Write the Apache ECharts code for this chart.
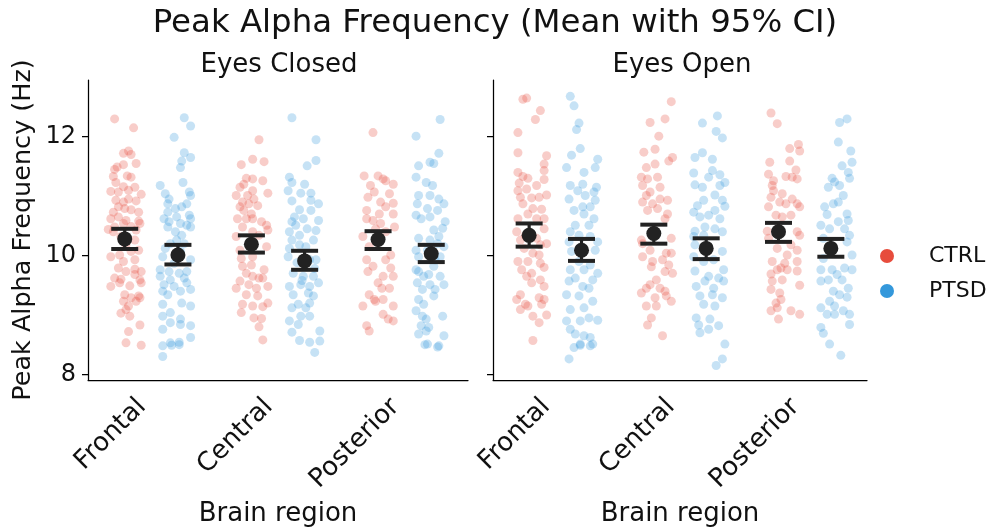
<!DOCTYPE html>
<html><head><meta charset="utf-8">
<script src="https://cdn.jsdelivr.net/npm/echarts@6/dist/echarts.min.js"></script>
<style>html,body{margin:0;padding:0;background:#fff}#c{width:990px;height:532px}</style>
</head><body><div id="c"></div>
<script>
const regions = ['Frontal', 'Central', 'Posterior'];
const groups = ['CTRL', 'PTSD'];
const conditions = ['Eyes Closed', 'Eyes Open'];
const yTicks = [8, 10, 12];

// individual subjects: [horizontal jitter (category units), peak alpha frequency Hz]
const ecFrontalCtrl = [[-0.08,12.30],[0.07,12.15],[-0.01,11.72],[0.03,11.76],[0.05,11.70],[0.09,11.55],[-0.06,11.49],[-0.08,11.45],[-0.01,11.53],[-0.09,11.33],[0.02,11.34],[0.05,11.32],[-0.07,11.23],[-0.01,11.16],[0.08,11.15],[-0.11,11.08],[-0.05,11.07],[0.03,11.10],[0.13,11.03],[-0.07,10.93],[-0.01,10.90],[0.09,10.92],[0.03,10.95],[-0.05,10.82],[0.00,10.79],[-0.09,10.73],[0.11,10.73],[0.05,10.77],[-0.11,10.62],[0.01,10.59],[0.11,10.58],[-0.05,10.65],[-0.01,10.54],[0.12,10.54],[-0.08,10.48],[0.05,10.49],[-0.09,10.40],[0.09,10.43],[-0.13,10.44],[-0.03,10.32],[0.08,10.26],[0.01,10.18],[-0.11,9.98],[-0.04,10.01],[0.05,10.07],[0.11,10.09],[-0.01,9.90],[0.08,9.93],[-0.05,9.79],[0.08,9.77],[0.01,9.73],[0.13,9.73],[-0.08,9.62],[-0.03,9.60],[0.08,9.68],[0.12,9.59],[-0.11,9.48],[-0.04,9.54],[0.04,9.49],[0.13,9.54],[0.00,9.34],[0.11,9.32],[0.05,9.29],[-0.01,9.23],[0.09,9.23],[0.03,9.15],[0.12,9.29],[0.01,9.09],[-0.03,9.03],[0.04,8.98],[0.12,8.83],[0.03,8.72],[0.01,8.53],[0.13,8.49]];
const ecFrontalPtsd = [[0.05,12.32],[0.10,12.18],[-0.03,11.99],[0.05,11.73],[0.10,11.65],[0.03,11.59],[0.02,11.48],[0.04,11.23],[-0.14,11.18],[-0.10,11.04],[0.09,11.07],[0.10,11.01],[-0.07,10.95],[-0.08,10.87],[0.07,10.87],[-0.02,10.79],[0.03,10.82],[-0.08,10.73],[-0.01,10.65],[0.09,10.68],[0.10,10.62],[-0.11,10.62],[-0.07,10.57],[0.02,10.54],[0.07,10.51],[-0.08,10.48],[0.10,10.48],[-0.02,10.40],[0.03,10.34],[-0.01,10.26],[-0.06,10.20],[0.05,10.20],[-0.10,10.12],[0.02,10.07],[-0.12,9.98],[-0.03,9.87],[0.10,9.93],[-0.14,9.76],[-0.07,9.73],[0.01,9.70],[0.07,9.73],[0.05,9.62],[-0.06,9.59],[-0.14,9.65],[-0.11,9.51],[-0.03,9.48],[0.07,9.54],[-0.12,9.40],[-0.08,9.34],[0.02,9.40],[0.10,9.43],[-0.12,9.18],[0.03,9.20],[0.10,9.15],[-0.06,9.04],[-0.12,8.98],[0.02,8.93],[-0.06,8.87],[0.10,8.82],[0.02,8.84],[-0.12,8.76],[0.10,8.62],[-0.12,8.48],[-0.06,8.53],[0.01,8.54],[-0.12,8.30],[-0.05,8.49],[0.01,8.50]];
const ecCentralCtrl = [[0.06,11.95],[0.01,11.62],[0.10,11.58],[-0.08,11.53],[-0.04,11.30],[0.01,11.29],[-0.06,11.20],[0.09,11.26],[-0.09,11.15],[0.01,11.09],[0.13,11.05],[-0.12,11.01],[-0.03,11.01],[0.02,10.95],[-0.07,10.90],[-0.02,10.87],[-0.09,10.82],[0.05,10.84],[-0.06,10.76],[0.00,10.70],[-0.11,10.62],[-0.04,10.62],[0.01,10.62],[0.08,10.57],[0.12,10.51],[-0.07,10.48],[0.13,10.43],[0.06,10.34],[-0.12,10.32],[0.01,10.40],[-0.09,10.09],[-0.08,9.95],[0.12,10.15],[0.01,9.98],[0.00,9.84],[-0.07,9.82],[0.10,9.76],[-0.04,9.70],[0.01,9.65],[0.06,9.62],[0.09,9.62],[-0.09,9.57],[-0.02,9.51],[-0.12,9.45],[0.13,9.48],[0.04,9.45],[-0.04,9.34],[0.05,9.32],[-0.07,9.18],[0.01,9.15],[0.09,9.14],[0.13,9.20],[-0.08,9.04],[0.02,8.95],[0.08,8.94],[0.06,8.80],[0.09,8.58]];
const ecCentralPtsd = [[-0.10,12.32],[0.09,11.95],[0.09,11.60],[0.02,11.51],[-0.12,11.32],[-0.10,11.23],[0.00,11.20],[-0.13,11.09],[0.05,11.05],[-0.03,11.05],[-0.10,10.92],[0.05,10.93],[0.11,10.87],[-0.04,10.77],[0.05,10.76],[-0.08,10.65],[-0.01,10.62],[-0.10,10.57],[-0.07,10.51],[0.11,10.59],[-0.12,10.40],[-0.04,10.34],[-0.10,10.26],[0.07,10.26],[-0.12,10.12],[-0.04,10.18],[0.01,10.15],[-0.13,9.98],[0.04,9.93],[0.09,9.93],[-0.09,9.70],[-0.01,9.65],[0.07,9.65],[0.11,9.54],[-0.12,9.48],[-0.03,9.51],[0.04,9.48],[-0.09,9.34],[0.03,9.37],[0.07,9.32],[-0.05,9.18],[0.04,9.20],[-0.10,9.12],[0.01,9.12],[-0.03,8.98],[0.04,8.98],[-0.12,8.90],[-0.05,8.84],[0.12,8.73],[-0.10,8.71],[-0.04,8.57],[0.04,8.54],[0.08,8.37],[0.12,8.56],[-0.02,9.58],[0.08,9.78],[-0.06,9.88],[0.02,10.45],[0.09,10.42]];
const ecPosteriorCtrl = [[-0.04,12.07],[-0.11,11.34],[0.00,11.34],[0.06,11.26],[0.12,11.20],[-0.06,11.18],[-0.03,11.07],[0.04,11.29],[-0.08,10.98],[0.02,10.90],[0.12,10.88],[0.06,10.82],[-0.09,10.76],[0.01,10.70],[0.12,10.70],[-0.04,10.59],[0.02,10.54],[0.13,10.48],[-0.12,10.32],[0.06,10.40],[-0.07,10.15],[-0.09,9.93],[0.06,9.93],[-0.04,9.82],[0.10,9.79],[0.04,9.65],[0.12,9.65],[0.00,9.54],[0.09,9.45],[-0.07,9.34],[-0.12,9.15],[-0.02,9.23],[0.04,9.26],[0.12,9.15],[0.04,9.01],[0.08,8.93],[0.12,8.90],[-0.09,8.82],[-0.07,8.73],[0.09,11.04],[-0.09,10.62],[-0.02,10.45],[0.10,10.01],[-0.08,9.73],[0.03,9.45],[-0.03,9.26]];
const ecPosteriorPtsd = [[0.07,12.29],[-0.12,12.01],[0.06,11.72],[-0.01,11.57],[0.02,11.55],[-0.10,11.51],[-0.12,11.32],[-0.04,11.23],[0.01,11.18],[0.10,10.87],[-0.11,10.87],[-0.01,11.01],[-0.10,11.01],[0.06,10.95],[-0.03,10.79],[0.05,10.76],[-0.12,10.68],[-0.01,10.65],[0.11,10.57],[-0.08,10.62],[0.09,10.46],[0.02,10.43],[-0.10,10.29],[0.06,10.32],[-0.01,10.26],[-0.12,10.09],[-0.03,10.09],[0.10,10.15],[-0.10,9.98],[0.07,9.98],[0.02,9.82],[-0.12,9.76],[-0.06,9.65],[0.07,9.65],[-0.10,9.73],[-0.11,9.54],[-0.01,9.51],[0.10,9.51],[-0.07,9.43],[0.03,9.43],[-0.10,9.26],[0.02,9.32],[-0.06,9.18],[-0.12,9.07],[-0.07,8.98],[0.09,8.98],[-0.04,8.93],[-0.08,8.82],[-0.02,8.79],[-0.10,8.68],[-0.04,8.73],[0.10,8.65],[-0.03,8.51],[0.06,8.48],[0.03,9.93],[-0.02,9.68],[0.05,10.20],[-0.05,8.50],[0.05,8.46]];
const eoFrontalCtrl = [[-0.05,12.63],[-0.02,12.65],[0.09,12.44],[0.05,12.29],[-0.09,12.07],[-0.09,11.73],[0.14,11.68],[0.12,11.54],[0.12,11.43],[-0.09,11.40],[-0.05,11.33],[-0.01,11.30],[0.12,11.28],[-0.08,11.22],[0.06,11.18],[-0.09,11.09],[-0.02,11.12],[0.14,11.02],[-0.07,10.98],[0.02,10.97],[0.08,10.98],[-0.05,10.87],[0.03,10.79],[0.10,10.78],[-0.01,10.70],[-0.09,10.62],[0.06,10.62],[0.12,10.62],[-0.10,10.40],[-0.03,10.34],[0.12,10.45],[0.14,10.20],[0.09,10.18],[0.08,10.01],[0.03,10.04],[-0.09,9.90],[-0.01,9.90],[0.09,9.87],[-0.06,9.76],[0.02,9.70],[0.12,9.80],[-0.02,9.65],[0.09,9.59],[0.12,9.48],[0.02,9.54],[-0.07,9.34],[0.08,9.29],[0.12,9.26],[-0.10,9.26],[-0.03,9.18],[-0.01,9.15],[0.10,9.18],[-0.07,9.09],[0.14,9.00],[0.03,8.98],[0.08,8.87],[0.03,8.57],[-0.07,10.26],[0.06,10.29],[-0.04,10.12]];
const eoFrontalPtsd = [[-0.09,12.68],[-0.06,12.52],[-0.02,12.23],[-0.04,12.12],[-0.01,11.80],[-0.08,11.69],[0.13,11.62],[0.11,11.48],[-0.12,11.48],[0.02,11.40],[-0.09,11.18],[0.01,11.20],[0.12,11.15],[-0.03,11.09],[0.03,11.01],[0.10,11.07],[-0.10,10.95],[0.11,10.93],[0.01,10.82],[-0.06,10.76],[0.07,10.82],[0.02,10.70],[0.10,10.62],[0.06,10.51],[-0.05,10.51],[-0.09,10.40],[-0.02,10.34],[0.07,10.32],[-0.10,10.23],[0.13,10.23],[-0.08,10.07],[0.11,10.09],[-0.02,9.90],[0.07,9.84],[-0.09,9.76],[0.02,9.76],[0.13,9.70],[-0.05,9.62],[0.09,9.59],[-0.10,9.57],[0.01,9.48],[0.06,9.45],[-0.12,9.34],[-0.02,9.32],[0.09,9.23],[-0.09,9.09],[0.02,9.12],[-0.01,8.90],[0.06,8.95],[0.13,8.91],[-0.12,8.90],[-0.09,8.76],[-0.05,8.68],[0.02,8.65],[0.07,8.62],[-0.01,8.51],[0.09,8.51],[-0.10,8.26],[-0.06,8.45],[-0.01,8.49],[0.07,8.48]];
const eoCentralCtrl = [[0.14,12.59],[-0.03,12.24],[0.09,12.30],[0.04,12.01],[-0.08,11.74],[0.01,11.79],[0.15,11.65],[0.12,11.59],[-0.06,11.48],[0.01,11.54],[-0.10,11.32],[-0.05,11.29],[0.03,11.32],[-0.09,11.18],[0.05,11.15],[-0.03,11.07],[-0.06,11.01],[0.05,10.95],[0.11,10.93],[-0.09,10.90],[-0.01,10.87],[-0.05,10.76],[0.03,10.79],[0.11,10.70],[0.09,10.62],[-0.10,10.26],[-0.09,10.20],[0.14,10.29],[-0.03,10.09],[0.10,10.04],[0.14,10.04],[-0.09,9.98],[-0.01,9.90],[0.07,9.93],[-0.02,9.81],[0.12,9.84],[0.09,9.73],[0.15,9.70],[0.02,9.59],[-0.03,9.51],[0.05,9.45],[0.09,9.40],[-0.10,9.37],[-0.06,9.45],[0.01,9.29],[0.10,9.32],[0.14,9.23],[-0.06,9.15],[0.02,9.15],[-0.02,8.95],[-0.05,8.83],[0.07,8.65]];
const eoCentralPtsd = [[0.09,12.35],[-0.03,12.23],[0.08,12.09],[0.13,11.98],[-0.03,11.73],[-0.09,11.65],[0.05,11.62],[0.05,11.43],[-0.10,11.39],[0.11,11.36],[0.02,11.32],[0.15,11.23],[-0.09,11.19],[-0.03,11.15],[0.11,11.18],[0.07,11.02],[-0.02,10.93],[0.13,10.93],[-0.07,10.84],[0.15,10.83],[-0.10,10.73],[0.07,10.76],[0.02,10.68],[-0.05,10.65],[0.11,10.62],[-0.09,10.41],[-0.01,10.48],[0.07,10.45],[0.13,10.40],[-0.10,10.32],[-0.02,10.34],[-0.09,10.18],[0.13,10.07],[-0.10,9.98],[-0.02,9.90],[0.06,9.93],[0.14,9.76],[-0.09,9.74],[0.02,9.65],[0.10,9.62],[-0.08,9.48],[0.06,9.45],[-0.01,9.57],[0.14,9.57],[-0.05,9.32],[0.05,9.34],[0.13,9.29],[-0.02,9.18],[0.07,9.15],[-0.08,8.95],[0.03,8.93],[0.10,8.82],[-0.06,8.83],[0.02,8.76],[-0.05,8.70],[0.15,8.51],[0.13,8.26],[0.08,8.15]];
const eoPosteriorCtrl = [[-0.06,12.40],[-0.01,12.22],[0.16,11.87],[0.09,11.80],[0.17,11.76],[-0.07,11.57],[0.09,11.59],[0.14,11.44],[-0.08,11.37],[0.06,11.33],[0.11,11.32],[-0.04,11.26],[0.15,11.29],[-0.05,11.18],[-0.04,11.09],[0.03,11.04],[-0.06,10.98],[0.11,10.95],[0.01,10.90],[0.06,10.87],[0.15,10.87],[-0.08,10.82],[0.17,10.82],[-0.02,10.68],[0.03,10.65],[0.10,10.68],[-0.09,10.41],[0.15,10.40],[0.17,10.34],[-0.08,10.29],[-0.01,10.12],[0.10,10.18],[0.15,10.09],[0.07,10.01],[-0.05,9.90],[0.05,9.87],[0.15,9.90],[0.02,9.79],[0.07,9.76],[0.15,9.74],[-0.06,9.69],[-0.01,9.76],[-0.05,9.57],[0.03,9.59],[0.17,9.50],[-0.06,9.43],[0.01,9.37],[0.02,9.26],[-0.02,9.20],[-0.01,9.12],[-0.06,9.07],[0.10,9.07],[0.17,9.01],[0.00,8.93]];
const eoPosteriorPtsd = [[0.07,12.24],[0.13,12.30],[0.06,11.91],[0.16,11.76],[0.09,11.51],[0.17,11.57],[0.14,11.40],[0.01,11.30],[0.03,11.24],[0.15,11.30],[-0.02,11.15],[0.07,11.18],[0.10,11.01],[0.02,10.87],[0.06,10.90],[-0.05,10.82],[0.13,10.70],[-0.03,10.69],[0.14,10.59],[0.06,10.57],[-0.08,10.51],[-0.01,10.45],[0.11,10.45],[0.15,10.34],[-0.06,10.29],[0.13,10.23],[0.17,10.01],[-0.06,9.95],[-0.08,9.76],[0.01,9.76],[0.11,9.79],[0.17,9.76],[0.05,9.68],[-0.08,9.57],[-0.02,9.59],[0.09,9.59],[0.14,9.45],[0.02,9.40],[0.07,9.34],[0.13,9.30],[-0.01,9.23],[-0.08,9.12],[0.03,9.15],[-0.03,9.01],[0.10,9.07],[0.15,9.01],[0.03,9.01],[0.15,8.84],[-0.08,8.79],[-0.06,8.69],[-0.01,8.51],[0.08,8.32]];

// group means with 95% confidence interval bounds, per region
const ecMeanCtrl = [10.28, 10.19, 10.27];
const ecLowCtrl  = [10.11, 10.05, 10.11];
const ecHighCtrl = [10.45, 10.34, 10.41];
const ecMeanPtsd = [10.01, 9.91, 10.03];
const ecLowPtsd  = [9.85, 9.76, 9.89];
const ecHighPtsd = [10.18, 10.08, 10.18];
const eoMeanCtrl = [10.34, 10.37, 10.40];
const eoLowCtrl  = [10.15, 10.20, 10.23];
const eoHighCtrl = [10.54, 10.52, 10.55];
const eoMeanPtsd = [10.09, 10.12, 10.12];
const eoLowPtsd  = [9.91, 9.94, 9.98];
const eoHighPtsd = [10.28, 10.29, 10.28];

const points = [
  [[ecFrontalCtrl, ecCentralCtrl, ecPosteriorCtrl], [ecFrontalPtsd, ecCentralPtsd, ecPosteriorPtsd]],
  [[eoFrontalCtrl, eoCentralCtrl, eoPosteriorCtrl], [eoFrontalPtsd, eoCentralPtsd, eoPosteriorPtsd]]
];
const stats = [
  [[ecMeanCtrl, ecLowCtrl, ecHighCtrl], [ecMeanPtsd, ecLowPtsd, ecHighPtsd]],
  [[eoMeanCtrl, eoLowCtrl, eoHighCtrl], [eoMeanPtsd, eoLowPtsd, eoHighPtsd]]
];

const FONT = 'DejaVu Sans';
const TXT = '#111';
const colors = ['#e74c3c', '#3498db'];
const dodge = [-0.21, 0.21];
const grids = [
  { left: 88, top: 80, width: 380, height: 303 },
  { left: 493, top: 80, width: 374, height: 303 }
];
const titleX = [274, 677];

const xAxes = [], yAxes = [], series = [];
conditions.forEach((cond, g) => {
  xAxes.push({
    type: 'category', gridIndex: g, data: regions, boundaryGap: true,
    axisLine: { onZero: false, lineStyle: { color: '#000', width: 1.25 } },
    axisTick: { alignWithLabel: true, length: 6, lineStyle: { color: '#000', width: 1.25 } },
    axisLabel: { interval: 0, rotate: 45, fontSize: 26, color: TXT, fontFamily: FONT, margin: 32, verticalAlign: 'bottom' },
    name: 'Brain region', nameLocation: 'middle', nameGap: 121,
    nameTextStyle: { fontSize: 26, color: TXT, fontFamily: FONT }
  });
  xAxes.push({ type: 'value', gridIndex: g, min: -0.5, max: 2.5, show: false });
  yAxes.push({
    type: 'value', gridIndex: g, min: 7.905, max: 12.955,
    splitLine: { show: false },
    axisLine: { show: true, onZero: false, lineStyle: { color: '#000', width: 1.25 } },
    axisTick: { show: true, length: 6, customValues: yTicks, lineStyle: { color: '#000', width: 1.25 } },
    axisLabel: { show: g === 0, customValues: yTicks, fontSize: 24, color: TXT, fontFamily: FONT, margin: 12 },
    name: g === 0 ? 'Peak Alpha Frequency (Hz)' : '', nameLocation: 'middle', nameGap: 52, nameRotate: 90,
    nameTextStyle: { fontSize: 25.5, color: TXT, fontFamily: FONT }
  });
  groups.forEach((grp, k) => {
    const data = [];
    regions.forEach((r, i) => {
      points[g][k][i].forEach(p => data.push([i + dodge[k] + p[0], p[1]]));
    });
    series.push({
      type: 'scatter', name: grp, xAxisIndex: g * 2 + 1, yAxisIndex: g,
      symbolSize: 9, data: data, z: 2, silent: true,
      itemStyle: { color: colors[k], opacity: 0.28, borderWidth: 0 }
    });
  });
  groups.forEach((grp, k) => {
    const [m, lo, hi] = stats[g][k];
    series.push({
      type: 'custom', xAxisIndex: g * 2 + 1, yAxisIndex: g, z: 5, silent: true,
      data: regions.map((r, i) => [i + dodge[k], lo[i], hi[i]]),
      encode: { x: 0, y: [1, 2] },
      renderItem: (params, api) => {
        const x = api.value(0);
        const a = api.coord([x, api.value(1)]);
        const b = api.coord([x, api.value(2)]);
        const hw = 13.5;
        const st = { stroke: '#222', lineWidth: 3.2 };
        return { type: 'group', children: [
          { type: 'line', shape: { x1: a[0], y1: a[1], x2: b[0], y2: b[1] }, style: st },
          { type: 'line', shape: { x1: a[0] - hw, y1: a[1], x2: a[0] + hw, y2: a[1] }, style: { stroke: '#222', lineWidth: 4 } },
          { type: 'line', shape: { x1: b[0] - hw, y1: b[1], x2: b[0] + hw, y2: b[1] }, style: { stroke: '#222', lineWidth: 4 } }
        ] };
      }
    });
    series.push({
      type: 'scatter', xAxisIndex: g * 2 + 1, yAxisIndex: g, z: 6, silent: true,
      symbolSize: 15, itemStyle: { color: '#222', opacity: 1 },
      data: regions.map((r, i) => [i + dodge[k], m[i]])
    });
  });
});

const titles = [{
  text: 'Peak Alpha Frequency (Mean with 95% CI)', left: 'center', top: 3,
  textStyle: { fontSize: 32.4, fontWeight: 'normal', color: TXT, fontFamily: FONT }
}];
conditions.forEach((c, g) => titles.push({
  text: c, left: titleX[g], textAlign: 'center', top: 47,
  textStyle: { fontSize: 26, fontWeight: 'normal', color: TXT, fontFamily: FONT }
}));

const legendGraphics = [];
groups.forEach((grp, k) => {
  const cy = 256 + k * 35;
  legendGraphics.push({ type: 'circle', shape: { cx: 887, cy: cy, r: 7 }, style: { fill: colors[k] } });
  legendGraphics.push({ type: 'text', x: 929, y: cy, style: { text: grp, fontSize: 22, fill: TXT, fontFamily: FONT, verticalAlign: 'middle' } });
});

const chart = echarts.init(document.getElementById('c'), null, { renderer: 'canvas' });
chart.setOption({
  animation: false,
  backgroundColor: '#fff',
  title: titles,
  grid: grids,
  xAxis: xAxes,
  yAxis: yAxes,
  series: series,
  graphic: legendGraphics
});
</script></body></html>
